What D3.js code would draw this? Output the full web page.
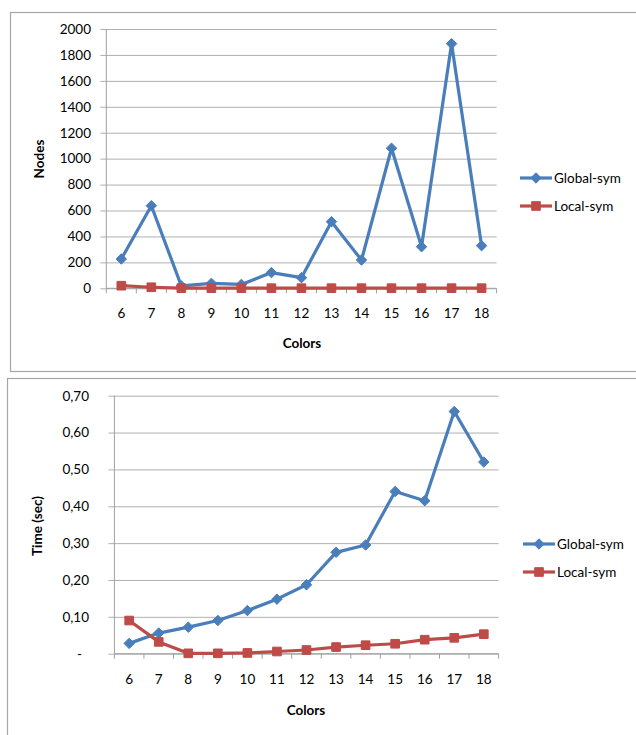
<!DOCTYPE html>
<html>
<head>
<meta charset="utf-8">
<script src="https://cdn.jsdelivr.net/npm/d3@7"></script>
<style>
  html, body { margin: 0; padding: 0; background: #fff; }
  svg { display: block; font-family: Lato, "Open Sans", sans-serif; }
</style>
</head>
<body>
<svg id="chart" width="636" height="735"></svg>
<script>
const categories = [6, 7, 8, 9, 10, 11, 12, 13, 14, 15, 16, 17, 18];
const seriesNames = ["Global-sym", "Local-sym"];

const nodesGlobal = [226, 637, 18, 38, 30, 121, 82, 514, 218, 1080, 321, 1887, 329];
const nodesLocal  = [20, 8, 1, 1, 1, 1, 1, 1, 1, 1, 1, 1, 1];
const nodesTicks  = [0, 200, 400, 600, 800, 1000, 1200, 1400, 1600, 1800, 2000];

const timeGlobal = [0.028, 0.056, 0.072, 0.090, 0.117, 0.148, 0.187, 0.275, 0.295, 0.440, 0.415, 0.657, 0.520];
const timeLocal  = [0.090, 0.032, 0.001, 0.001, 0.002, 0.006, 0.010, 0.018, 0.023, 0.027, 0.038, 0.043, 0.053];
const timeTicks  = [0, 0.10, 0.20, 0.30, 0.40, 0.50, 0.60, 0.70];

const BLUE = "#4A7EBB", RED = "#BE4B48";
const GRID = "#B0B0B0", AXIS = "#A0A0A0", BORDER = "#A6A6A6";

const svg = d3.select("#chart");

function drawChart(cfg) {
  const g = svg.append("g");
  // outer frame
  g.append("rect")
    .attr("x", cfg.box.x).attr("y", cfg.box.y)
    .attr("width", cfg.box.w).attr("height", cfg.box.h)
    .attr("fill", "#fff").attr("stroke", BORDER).attr("stroke-width", 1.2);

  const x = d3.scaleBand().domain(categories).range([cfg.left, cfg.right]).padding(0);
  const y = d3.scaleLinear().domain([0, cfg.max]).range([cfg.bottom, cfg.top]);

  // gridlines + y tick labels
  const yAxis = d3.axisLeft(y).tickValues(cfg.ticks)
    .tickSize(-(cfg.right - cfg.left)).tickSizeOuter(0).tickPadding(0)
    .tickFormat(cfg.fmt);
  const ya = g.append("g").attr("transform", `translate(${cfg.left},0)`).call(yAxis);
  ya.select(".domain").remove();
  ya.selectAll(".tick line").attr("stroke", GRID).attr("stroke-width", 1)
    .attr("x1", -6);
  ya.selectAll(".tick text").attr("x", cfg.labelX - cfg.left)
    .attr("font-size", 13.5).attr("fill", "#000").attr("font-family", "Lato, sans-serif");
  if (cfg.zeroLabelX !== undefined) {
    ya.selectAll(".tick").filter(d => d === 0).select("text").attr("x", cfg.zeroLabelX - cfg.left);
  }

  // y axis line
  g.append("line").attr("x1", cfg.left).attr("x2", cfg.left)
    .attr("y1", cfg.top).attr("y2", cfg.bottom).attr("stroke", AXIS);

  // x axis with boundary ticks
  const bounds = categories.map(c => x(c)).concat([cfg.right]);
  g.append("line").attr("x1", cfg.left).attr("x2", cfg.right)
    .attr("y1", cfg.bottom).attr("y2", cfg.bottom).attr("stroke", AXIS);
  g.selectAll(".xt").data(bounds).enter().append("line")
    .attr("x1", d => d).attr("x2", d => d)
    .attr("y1", cfg.bottom).attr("y2", cfg.bottom + 5).attr("stroke", AXIS);
  g.selectAll(".xl").data(categories).enter().append("text")
    .attr("x", d => x(d) + x.bandwidth() / 2).attr("y", cfg.xLabelY)
    .attr("text-anchor", "middle").attr("font-size", 13.5).text(d => d);

  // axis titles
  g.append("text").attr("x", cfg.xTitle[0]).attr("y", cfg.xTitle[1])
    .attr("text-anchor", "middle").attr("font-size", 13.5).attr("font-weight", "bold")
    .text("Colors");
  g.append("text")
    .attr("transform", `translate(${cfg.yTitle[0]},${cfg.yTitle[1]}) rotate(-90)`)
    .attr("text-anchor", "middle").attr("dominant-baseline", "central")
    .attr("font-size", 13.5).attr("font-weight", "bold").text(cfg.yTitleText);

  const line = d3.line().x((d, i) => x(categories[i]) + x.bandwidth() / 2).y(d => y(d));
  const series = [
    { name: seriesNames[0], values: cfg.global, color: BLUE, shape: d3.symbolDiamond2, size: 70 },
    { name: seriesNames[1], values: cfg.local, color: RED, shape: d3.symbolSquare2, size: 95 }
  ];
  series.forEach(s => {
    g.append("path").datum(s.values).attr("d", line)
      .attr("fill", "none").attr("stroke", s.color).attr("stroke-width", 3.2)
      .attr("stroke-linejoin", "round");
    g.selectAll(null).data(s.values).enter().append("path")
      .attr("transform", (d, i) => `translate(${x(categories[i]) + x.bandwidth() / 2},${y(d)})`)
      .attr("d", d3.symbol().type(s.shape).size(s.size))
      .attr("fill", s.color).attr("stroke", s.color).attr("stroke-width", 1);
  });

  // legend
  series.forEach((s, i) => {
    const ly = cfg.legend.y[i];
    g.append("line").attr("x1", cfg.legend.x1).attr("x2", cfg.legend.x2)
      .attr("y1", ly).attr("y2", ly).attr("stroke", s.color).attr("stroke-width", 3.2);
    g.append("path")
      .attr("transform", `translate(${(cfg.legend.x1 + cfg.legend.x2) / 2},${ly})`)
      .attr("d", d3.symbol().type(s.shape).size(s.size))
      .attr("fill", s.color).attr("stroke", s.color);
    g.append("text").attr("x", cfg.legend.x2 + 2).attr("y", ly)
      .attr("dominant-baseline", "central").attr("font-size", 13.5).text(s.name);
  });
}

drawChart({
  box: { x: 10.5, y: 12.5, w: 640, h: 359 },
  left: 106.3, right: 496.6, top: 29, bottom: 288.3,
  max: 2000, ticks: nodesTicks, fmt: d3.format("d"), labelX: 91,
  global: nodesGlobal, local: nodesLocal,
  xLabelY: 318, xTitle: [302, 348], yTitle: [39, 159], yTitleText: "Nodes",
  legend: { x1: 520, x2: 552, y: [178, 206] }
});

drawChart({
  box: { x: 7.5, y: 378.5, w: 640, h: 380 },
  left: 114.4, right: 498.6, top: 395.7, bottom: 653.7,
  max: 0.7, ticks: timeTicks,
  fmt: d => d === 0 ? "-" : d3.format(".2f")(d).replace(".", ","),
  labelX: 89, zeroLabelX: 82,
  global: timeGlobal, local: timeLocal,
  xLabelY: 684, xTitle: [306, 715], yTitle: [37, 526], yTitleText: "Time (sec)",
  legend: { x1: 523, x2: 555, y: [544, 572] }
});
</script>
</body>
</html>
